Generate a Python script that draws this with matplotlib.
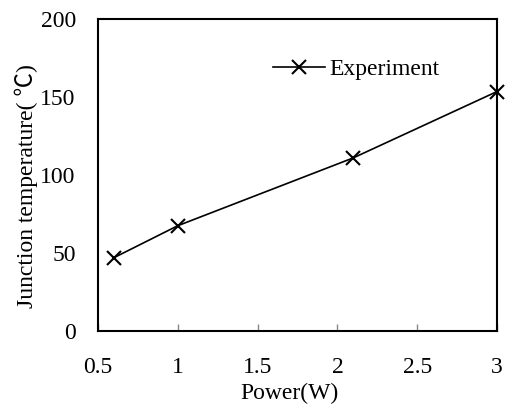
import matplotlib
matplotlib.use("Agg")
import matplotlib.pyplot as plt

# data
power = [0.6, 1.0, 2.1, 3.0]
junction_temp = [47, 67.5, 111, 153.5]
x_ticks = [0.5, 1, 1.5, 2, 2.5, 3]
x_tick_labels = ["0.5", "1", "1.5", "2", "2.5", "3"]
y_ticks = [0, 50, 100, 150, 200]

plt.rcParams['font.family'] = ['Liberation Serif', 'Noto Sans CJK SC', 'DejaVu Sans']

fig = plt.figure(figsize=(5.09, 4.09), dpi=100)
ax = fig.add_axes([0.1925, 0.1907, 0.7839, 0.7628])

ax.plot(power, junction_temp, color="black", linewidth=1.2, marker="x",
        markersize=10, markeredgewidth=1.5, label="Experiment", clip_on=False)

ax.set_xlim(0.5, 3)
ax.set_ylim(0, 200)
ax.set_xticks(x_ticks)
ax.set_xticklabels(x_tick_labels)
ax.set_yticks(y_ticks)

for side in ax.spines.values():
    side.set_linewidth(1.5)

ax.tick_params(axis="x", direction="in", length=5, width=1, color="#888888",
               pad=19, labelsize=17)
ax.tick_params(axis="y", length=0, pad=16, labelsize=17)

ax.set_xlabel("Power(W)", fontsize=17)
ax.set_ylabel("Junction temperature( \u2103)", fontsize=17)
ax.xaxis.set_label_coords(0.479, -0.165)
ax.yaxis.set_label_coords(-0.15, 0.465)

ax.legend(loc="upper left", bbox_to_anchor=(0.385, 0.942), frameon=False,
          fontsize=17, handlelength=2.2, handletextpad=0.2)

fig.savefig("out.png", dpi=100)
